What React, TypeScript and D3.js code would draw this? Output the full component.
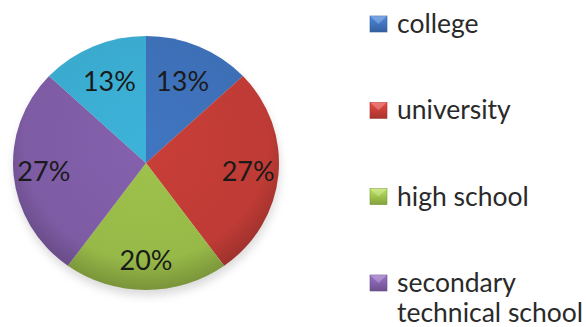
import React from "react";
import * as d3 from "d3";

const categories = ["college", "university", "high school", "secondary technical school", "other"];
const values = [13, 27, 20, 27, 13];
const colors = ["#3D6FB6", "#BF3B35", "#97B948", "#7E5CA4", "#3AAACE"];
const legendLines = [["college"], ["university"], ["high school"], ["secondary", "technical school"]];

const W = 586, H = 327;
const cx = 146, cy = 163, ry = 127, rx = 133;

export default function App() {
  const pie = d3.pie<number>().sort(null).value((d) => d)(values);
  const arc = d3.arc<d3.PieArcDatum<number>>().innerRadius(0).outerRadius(ry);
  const sx = rx / ry;
  const total = d3.sum(values);
  const legendY = d3.scalePoint<number>().domain(d3.range(legendLines.length)).range([24, 283]);

  return (
    <svg width={W} height={H} style={{ position: "absolute", left: 0, top: 0, background: "#fff" }}>
      <defs>
        {colors.map((c, i) => (
          <radialGradient key={i} id={`g${i}`} gradientUnits="userSpaceOnUse" cx={0} cy={-20} r={ry * 1.15}>
            <stop offset="0%" stopColor={d3.color(c)!.brighter(0.15).toString()} />
            <stop offset="80%" stopColor={c} />
            <stop offset="100%" stopColor={d3.color(c)!.darker(0.6).toString()} />
          </radialGradient>
        ))}
        {colors.map((c, i) => (
          <linearGradient key={i} id={`m${i}`} x1="0" y1="0" x2="0" y2="1">
            <stop offset="0%" stopColor={d3.color(c)!.brighter(0.6).toString()} />
            <stop offset="100%" stopColor={d3.color(c)!.darker(0.4).toString()} />
          </linearGradient>
        ))}
        <filter id="blur" x="-20%" y="-20%" width="140%" height="140%">
          <feGaussianBlur stdDeviation="4" />
        </filter>
      </defs>
      <ellipse cx={cx + 1} cy={cy + 6} rx={rx} ry={ry} fill="#999" opacity={0.35} filter="url(#blur)" />
      <g transform={`translate(${cx},${cy}) scale(${sx},1)`}>
        {pie.map((p, i) => (
          <path key={i} d={arc(p)!} fill={`url(#g${i})`} />
        ))}
      </g>
      {pie.map((p, i) => {
        const lr = values[i] < 15 ? 88 : 98;
        const [x, y] = d3.arc<d3.PieArcDatum<number>>().innerRadius(lr).outerRadius(lr).centroid(p);
        return (
          <text key={i} x={cx + x * sx} y={cy + y - 2} textAnchor="middle" dominantBaseline="central"
            fontFamily="Lato, 'Open Sans', sans-serif" fontSize={27} fill="#1a1a1a">
            {`${Math.round((values[i] / total) * 100)}%`}
          </text>
        );
      })}
      {legendLines.map((lines, i) => {
        const y = legendY(i)!;
        return (
          <g key={i}>
            <rect x={370} y={y - 8} width={17} height={16} fill={`url(#m${i})`} stroke={d3.color(colors[i])!.darker(0.5).toString()} strokeWidth={0.6} />
            <path d={`M370,${y - 8} L378.5,${y} L387,${y - 8} Z`} fill="#fff" opacity={0.25} />
            {lines.map((t, j) => (
              <text key={j} x={397} y={y + 9 + j * 30} fontFamily="Lato, 'Open Sans', sans-serif" fontSize={26.5} fill="#2a2a2a">
                {t}
              </text>
            ))}
          </g>
        );
      })}
    </svg>
  );
}
